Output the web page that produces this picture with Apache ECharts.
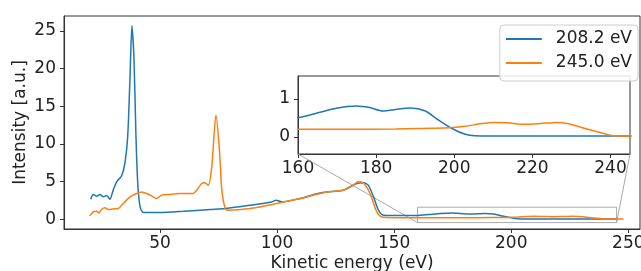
<!DOCTYPE html>
<html>
<head>
<meta charset="UTF-8">
<title>XPS spectra</title>
<script src="https://cdn.jsdelivr.net/npm/echarts@6/dist/echarts.min.js"></script>
</head>
<body style="margin:0">
<div id="main" style="width:641px;height:271px;"></div>
<script>
// 208.2 eV photon energy
var blueX = [20.4, 21.5, 22.9, 24.4, 25.8, 27.2, 28.6, 30.0, 31.5, 33.6, 35.0, 36.2, 37.2, 38.0, 38.9, 39.7, 40.5, 41.5, 42.9, 50, 60, 71.4, 78, 88.5, 97.7, 99.6, 102, 109.8, 117, 121.2, 128.3, 134, 136.9, 139, 141.2, 143.3, 145.5, 150, 160, 164.7, 169.8, 174.9, 178.3, 181.7, 185, 188.8, 192.6, 196, 199.4, 202.8, 205.3, 215, 230, 245]
var blueY = [2.66, 3.29, 3.06, 3.29, 2.97, 3.15, 2.66, 3.86, 4.97, 5.77, 7.41, 10.96, 18.9, 25.7, 21.2, 11.4, 4.75, 1.64, 0.89, 0.89, 1.05, 1.29, 1.42, 1.86, 2.3, 2.53, 2.3, 2.75, 3.4, 3.63, 3.86, 4.75, 4.84, 4.5, 2.97, 1.2, 0.53, 0.5, 0.51, 0.62, 0.75, 0.81, 0.77, 0.68, 0.72, 0.76, 0.68, 0.44, 0.22, 0.07, 0.03, 0.02, 0.02, 0.02]
// 245.0 eV photon energy
var orangeX = [20, 21.5, 22.9, 24, 25, 26.5, 27.9, 30, 32.2, 34.3, 37.2, 40, 42.2, 44.3, 47.1, 48.6, 50.7, 54.3, 58.5, 64.2, 65.7, 67.8, 69.2, 70.6, 72.1, 73.9, 75.4, 76.4, 77.8, 78.8, 88.5, 99.8, 109.8, 121.2, 128.3, 132.5, 134.7, 136.9, 139.7, 142.6, 144.7, 150, 160, 173, 185, 198.5, 202.8, 207, 210.3, 213.7, 217.9, 222.1, 226.3, 228.9, 232.2, 235.6, 239, 240.7, 248]
var orangeY = [0.44, 0.97, 1.07, 0.84, 1.29, 1.51, 1.29, 1.37, 1.42, 2.09, 2.97, 3.42, 3.63, 3.42, 2.97, 2.75, 3.2, 3.29, 3.42, 3.42, 3.86, 4.75, 4.84, 4.5, 6.96, 13.85, 9.2, 3.86, 1.42, 1.2, 1.42, 2.09, 2.75, 3.63, 3.86, 4.53, 4.97, 4.8, 3.42, 0.97, 0.31, 0.2, 0.2, 0.2, 0.21, 0.24, 0.28, 0.35, 0.38, 0.37, 0.33, 0.35, 0.38, 0.35, 0.26, 0.16, 0.07, 0.03, 0.02]

var seriesNames = ['208.2 eV', '245.0 eV']
var mainXTicks = [50, 100, 150, 200, 250]
var mainYTicks = [0, 5, 10, 15, 20, 25]
var insetXTicks = [160, 180, 200, 220, 240]
var insetYTicks = [0, 1]
var insetX = [160, 245]
var insetY = [-0.45, 1.6]

var FONT = 'DejaVu Sans'
var FS = 17
var BLUE = '#1f77b4'
var ORANGE = '#ff7f0e'

function pairs(xs, ys) {
  var out = []
  for (var i = 0; i < xs.length; i++) out.push([xs[i], ys[i]])
  return out
}

function axisCommon(ticks) {
  return {
    type: 'value',
    splitLine: {show: false},
    axisLine: {show: true, onZero: false, lineStyle: {color: '#333', width: 1}},
    axisTick: {show: true, length: 4, lineStyle: {color: '#333'}, customValues: ticks},
    axisLabel: {color: '#222', fontSize: FS, fontFamily: FONT, margin: 6, customValues: ticks}
  }
}

var xMain = axisCommon(mainXTicks)
xMain.gridIndex = 0
xMain.min = 9
xMain.max = 255
xMain.name = 'Kinetic energy (eV)'
xMain.nameLocation = 'middle'
xMain.nameGap = 26
xMain.nameMoveOverlap = false
xMain.nameTextStyle = {fontSize: FS, fontFamily: FONT, color: '#222'}

var yMain = axisCommon(mainYTicks)
yMain.gridIndex = 0
yMain.min = -1.3
yMain.max = 27
yMain.axisLabel.margin = 8
yMain.name = 'Intensity [a.u.]'
yMain.nameLocation = 'middle'
yMain.nameGap = 35
yMain.nameMoveOverlap = false
yMain.nameTextStyle = {fontSize: FS, fontFamily: FONT, color: '#222'}

var xInset = axisCommon(insetXTicks)
xInset.gridIndex = 1
xInset.min = insetX[0]
xInset.max = insetX[1]

var yInset = axisCommon(insetYTicks)
yInset.gridIndex = 1
yInset.min = insetY[0]
yInset.max = insetY[1]
yInset.axisLabel.margin = 8

function line(name, data, color, idx, extra) {
  var s = {
    name: name, type: 'line', data: data,
    xAxisIndex: idx, yAxisIndex: idx,
    symbol: 'none', smooth: 0.25,
    lineStyle: {color: color, width: 1.5},
    itemStyle: {color: color}
  }
  for (var k in extra) s[k] = extra[k]
  return s
}

var blueData = pairs(blueX, blueY)
var orangeData = pairs(orangeX, orangeY)

var myChart = echarts.init(document.getElementById('main'))
myChart.setOption({
  animation: false,
  textStyle: {fontFamily: FONT},
  grid: [
    {left: 64, top: 16, right: 1, bottom: 42, show: true, borderColor: '#333', borderWidth: 1,
      backgroundColor: '#fff', outerBoundsMode: 'none', containLabel: false},
    {left: 298, top: 76, right: 11, height: 78, show: true, borderColor: '#333', borderWidth: 1,
      backgroundColor: '#fff', outerBoundsMode: 'none', containLabel: false}
  ],
  xAxis: [xMain, xInset],
  yAxis: [yMain, yInset],
  legend: {
    data: seriesNames,
    orient: 'vertical',
    right: 3, top: 25,
    padding: [4, 6, 8, 6],
    itemGap: 4,
    icon: 'rect',
    itemWidth: 36, itemHeight: 2,
    backgroundColor: 'rgba(255,255,255,0.85)',
    borderColor: '#ccc', borderWidth: 1, borderRadius: 4,
    textStyle: {fontSize: FS, fontFamily: FONT, color: '#222', padding: [0, 0, 0, 9], lineHeight: 20}
  },
  series: [
    line(seriesNames[0], blueData, BLUE, 0, {
      markArea: {
        silent: true,
        itemStyle: {color: 'rgba(0,0,0,0)', borderColor: '#aaa', borderWidth: 1},
        data: [[{coord: [insetX[0], insetY[0]]}, {coord: [insetX[1], insetY[1]]}]]
      }
    }),
    line(seriesNames[1], orangeData, ORANGE, 0, {}),
    line(seriesNames[0], blueData, BLUE, 1, {}),
    line(seriesNames[1], orangeData, ORANGE, 1, {})
  ]
})

// connector lines between inset corners and the zoom rectangle
var lines = []
for (var i = 0; i < 2; i++) {
  var a = myChart.convertToPixel({seriesIndex: 2}, [insetX[i], insetY[0]])
  var b = myChart.convertToPixel({seriesIndex: 0}, [insetX[i], insetY[0]])
  lines.push({
    type: 'line', silent: true, z: 1,
    shape: {x1: a[0], y1: a[1], x2: b[0], y2: b[1]},
    style: {stroke: '#aaa', lineWidth: 1}
  })
}
myChart.setOption({graphic: lines})
</script>
</body>
</html>
